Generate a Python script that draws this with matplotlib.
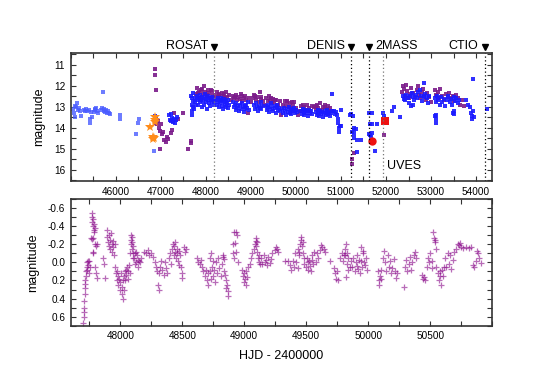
import numpy as np
import matplotlib
matplotlib.use("Agg")
import matplotlib.pyplot as plt
from matplotlib.ticker import MultipleLocator, FormatStrFormatter

plt.rcParams['font.family'] = ['Liberation Sans', 'DejaVu Sans']
plt.rcParams['axes.unicode_minus'] = False

#%% top panel data (HJD-2400000, magnitude)
blue_early = [(45060, 13.1), (45080, 13.3), (45100, 12.95), (45120, 13.0), (45140, 12.85),
              (45160, 13.15), (45180, 13.05), (45200, 13.2), (45230, 13.45), (45090, 13.5),
              (45290, 13.15), (45310, 13.2), (45330, 13.1), (45360, 13.2), (45400, 13.15),
              (45420, 13.6), (45430, 13.8), (45460, 13.25), (45480, 13.5), (45510, 13.25),
              (45530, 13.1), (45550, 13.15), (45570, 13.05), (45590, 13.2), (45610, 13.3),
              (45680, 13.15), (45700, 13.05), (45720, 12.3), (45730, 13.2), (45750, 13.1),
              (45770, 13.25), (45790, 13.15), (45810, 13.3), (45830, 13.2), (45850, 13.3),
              (45870, 13.35), (46090, 13.4), (46100, 13.6), (46440, 14.3), (46500, 13.8),
              (46520, 13.6), (46840, 15.1)]

blue_mid = [(46870, 13.45), (46880, 13.6), (46890, 13.7), (46900, 13.55),
            (47190, 13.4), (47210, 13.65), (47230, 13.7), (47250, 13.55), (47270, 13.75),
            (47290, 13.6), (47310, 13.8), (47330, 13.65), (47350, 13.5), (47230, 13.35),
            (47680, 12.5), (47700, 12.6), (47710, 12.75), (47690, 12.9), (47720, 13.0),
            (47700, 13.2), (47690, 13.4), (47730, 13.1), (47750, 12.8), (47760, 12.6),
            (47780, 12.9), (47705, 12.35)]

blue_band = [(47800, 12.7), (47815, 12.5), (47830, 12.9), (47845, 12.6), (47860, 12.8),
             (47875, 12.45), (47890, 12.7), (47905, 13.0), (47920, 12.55), (47935, 12.75),
             (47950, 12.9), (47965, 12.6), (47980, 12.4), (47995, 12.8), (48010, 12.65),
             (48025, 13.1), (48040, 12.7), (48055, 12.5), (48070, 12.85), (48085, 12.6),
             (48100, 12.95), (48115, 12.7), (48130, 12.55), (48145, 12.8), (48160, 12.65),
             (48175, 12.9), (48190, 12.75),
             (48230, 12.7), (48245, 12.9), (48260, 12.6), (48275, 12.8), (48290, 13.0),
             (48305, 12.7), (48320, 12.85), (48335, 12.6), (48350, 12.95), (48365, 12.75),
             (48380, 13.1), (48395, 12.8), (48410, 12.65), (48425, 12.9), (48440, 13.0),
             (48455, 12.75), (48470, 12.85), (48485, 13.05), (48500, 12.7), (48515, 12.9),
             (48600, 12.8), (48620, 13.0), (48640, 12.9), (48660, 13.15), (48680, 12.85),
             (48700, 13.05), (48720, 12.95), (48740, 13.2), (48760, 12.9), (48780, 13.1),
             (48800, 12.85), (48820, 13.0), (48840, 13.25), (48860, 12.95), (48880, 13.1),
             (48900, 12.9), (48920, 13.05), (48940, 12.8), (48960, 13.15),
             (49075, 12.9), (49095, 13.1), (49115, 12.85), (49135, 13.0), (49155, 13.2),
             (49175, 12.95), (49195, 13.05), (49215, 12.8), (49235, 13.1), (49255, 12.95),
             (49330, 12.95), (49350, 13.15), (49370, 12.9), (49390, 13.05), (49410, 13.25),
             (49430, 13.0), (49450, 12.85), (49470, 13.1), (49490, 13.2), (49510, 12.95),
             (49530, 13.05), (49550, 13.3), (49570, 13.0), (49590, 12.9), (49610, 13.15),
             (49630, 13.05), (49650, 13.2),
             (49700, 13.1), (49720, 13.3), (49740, 13.05), (49760, 13.2), (49780, 13.4),
             (49800, 13.1), (49820, 13.25), (49840, 13.0), (49860, 13.3), (49880, 13.15),
             (49900, 13.35), (49920, 13.1), (49940, 13.2), (49960, 13.05), (49980, 13.3),
             (50000, 13.15), (50020, 13.25),
             (50110, 13.2), (50130, 13.35), (50150, 13.1), (50170, 13.25), (50190, 13.4),
             (50210, 13.15), (50230, 13.3), (50250, 13.2), (50270, 13.45), (50290, 13.15),
             (50310, 13.3), (50330, 13.2), (50350, 13.35),
             (50440, 13.25), (50460, 13.4), (50480, 13.15), (50500, 13.3), (50520, 13.45),
             (50540, 13.2), (50560, 13.35), (50580, 13.25), (50600, 13.5), (50620, 13.3),
             (50640, 13.2), (50660, 13.4), (50680, 13.3), (50700, 13.15), (50720, 13.35),
             (50740, 13.25), (50760, 13.45), (50780, 13.3), (50800, 13.2),
             (50810, 12.4), (50850, 13.2), (50870, 13.35), (50890, 13.25), (50910, 13.4),
             (50930, 13.6), (50945, 13.8), (50955, 14.0), (50965, 14.2), (50975, 13.9)]

blue_late = [(51000, 13.15), (51010, 13.9), (51190, 13.4), (51230, 13.35), (51270, 13.45),
             (51250, 14.2), (51280, 14.1), (51300, 14.0), (51330, 14.05), (51350, 14.6),
             (51300, 14.3), (51280, 14.5), (51440, 14.6), (51347, 15.15),
             (51620, 13.3), (51700, 13.3), (51640, 13.85), (51700, 13.85), (51620, 14.3),
             (51640, 14.35), (51660, 14.45), (51690, 14.25), (51760, 15.1), (51790, 13.85),
             (51940, 13.3), (51950, 13.55), (51960, 13.45), (52140, 13.2), (52170, 13.0),
             (52300, 13.5),
             (52370, 12.5), (52390, 12.65), (52420, 12.7), (52450, 12.45), (52480, 12.6),
             (52510, 12.85), (52540, 12.5), (52570, 12.35), (52600, 12.55), (52630, 12.7),
             (52660, 12.45), (52690, 12.6), (52720, 12.3), (52750, 12.2), (52780, 12.5),
             (52810, 12.75), (52840, 12.55), (52870, 12.4), (52900, 12.6), (52930, 12.85),
             (52960, 12.5), (52850, 11.87), (52560, 12.95), (52600, 12.9),
             (53090, 13.45), (53100, 13.6), (53110, 13.8), (53120, 13.4),
             (53080, 12.6), (53100, 12.8), (53130, 12.5), (53160, 12.7), (53190, 12.9),
             (53220, 12.55), (53250, 12.8), (53280, 12.65), (53320, 12.95), (53350, 12.7),
             (53380, 12.5), (53410, 12.8), (53440, 12.65), (53470, 12.9), (53500, 12.55),
             (53530, 12.75), (53560, 12.6), (53600, 12.85), (53630, 12.7), (53520, 13.2),
             (53480, 13.3), (53510, 13.35),
             (53780, 12.7), (53830, 12.9), (53860, 13.0), (53890, 13.3), (53910, 13.45),
             (53925, 11.7), (53900, 13.6), (53940, 13.2), (53960, 13.5), (54240, 13.1)]

purple_top = [(46870, 11.2), (46880, 11.5), (46890, 12.2), (46900, 13.8), (46910, 13.85),
              (46940, 13.7), (46960, 14.0), (46990, 14.15), (47010, 13.85), (47030, 14.3),
              (47060, 14.2), (47080, 14.6), (47110, 14.7), (47130, 14.45), (46973, 15.0),
              (47150, 14.55), (47231, 14.25), (47250, 14.1), (47380, 13.6), (47300, 13.3),
              (47490, 13.3), (47600, 15.0), (47660, 14.75), (47675, 14.65),
              (47780, 12.4), (47810, 12.1), (47840, 12.3), (47870, 12.6), (47900, 12.2),
              (47930, 12.4), (47960, 12.0), (47990, 12.3), (48020, 12.5), (48050, 12.2),
              (48080, 12.35), (48110, 12.6), (48140, 12.25), (48170, 12.45), (48200, 12.5),
              (48240, 12.3), (48270, 12.55), (48300, 12.4), (48330, 12.7), (48360, 12.35),
              (48390, 12.5), (48420, 12.6), (48450, 12.3), (48480, 12.55), (48510, 12.45),
              (48550, 12.7), (48600, 12.5), (48630, 12.6), (48660, 12.45), (48690, 12.7),
              (48720, 12.55), (48750, 12.65), (48780, 12.4), (48810, 12.75), (48840, 12.6),
              (48870, 12.5), (48900, 12.7), (48930, 13.3), (48960, 12.6), (49000, 12.8),
              (49050, 12.6), (49080, 12.45), (49110, 12.7), (49140, 12.55), (49170, 12.8),
              (49200, 12.3), (49230, 12.65), (49260, 12.75), (49300, 12.9), (49340, 12.6),
              (49370, 12.75), (49400, 12.5), (49430, 12.7), (49460, 12.85), (49490, 12.65),
              (49520, 12.8), (49560, 12.7), (49600, 12.9), (49640, 12.75), (49680, 13.4),
              (49720, 12.9), (49750, 12.75), (49780, 12.95), (49810, 12.8), (49840, 13.0),
              (49870, 12.85), (49900, 13.05), (49930, 12.9), (49960, 12.8), (50000, 13.05),
              (50040, 13.4), (50080, 13.2), (50120, 12.95), (50150, 13.1), (50180, 13.0),
              (50210, 13.15), (50240, 12.9), (50280, 13.05), (50320, 13.2), (50360, 12.95),
              (50400, 13.0), (50440, 13.1), (50470, 12.9), (50500, 13.05), (50540, 12.85),
              (50570, 13.15), (50600, 13.0), (50640, 12.9), (50680, 13.1), (50720, 12.95),
              (50760, 13.05), (50790, 13.2),
              (47825, 12.35), (47915, 12.15), (48035, 12.45), (48125, 12.2), (48285, 12.45),
              (48405, 12.4), (48645, 12.55), (48795, 12.5), (49095, 12.5), (49215, 12.55),
              (49445, 12.6), (49535, 12.7), (49795, 12.75), (49915, 12.8), (50165, 12.9),
              (50455, 12.95), (50655, 13.0),
              (51290, 15.2), (51250, 15.5), (51250, 15.75), (51950, 14.35),
              (52360, 12.3), (52380, 12.0), (52400, 12.15), (52420, 12.5), (52440, 11.95),
              (52470, 12.25), (52500, 12.6), (52530, 12.4), (52560, 12.1), (52600, 12.35),
              (52640, 12.55), (52680, 12.2), (52700, 12.0), (52730, 12.45), (52760, 12.6),
              (52790, 12.3), (52820, 12.15), (52850, 12.5), (52880, 12.7), (52910, 12.35),
              (52950, 12.55), (52990, 12.8),
              (53080, 12.2), (53110, 12.45), (53150, 12.3), (53180, 12.6), (53210, 12.15),
              (53250, 12.5), (53290, 12.7), (53330, 12.4), (53370, 12.55), (53400, 12.35),
              (53440, 12.6), (53480, 12.5), (53520, 12.75), (53560, 12.45), (53600, 12.6),
              (53640, 12.9), (53690, 12.7), (53730, 12.95)]

orange_stars = [(46760, 13.96), (46826, 14.43), (46835, 14.55), (46845, 14.5),
                (46862, 13.5), (46870, 13.65), (46866, 13.75)]
red_circle = [(51680, 14.62)]
red_square = [(51980, 13.67)]

# surveys: name, HJD-2400000
survey_names = ['ROSAT', 'DENIS', '2MASS', 'UVES', 'CTIO']
survey_hjd = [48190, 51220, 51615, 51930, 54190]

#%% bottom panel data (HJD-2400000, magnitude residual)
resid_a = [(47700, 0.67), (47705, 0.55), (47708, 0.5), (47710, 0.43), (47712, 0.35),
           (47715, 0.28), (47718, 0.2), (47722, 0.15), (47725, 0.1), (47728, 0.05),
           (47732, 0.0), (47735, 0.08), (47738, -0.02), (47742, 0.03), (47745, 0.12),
           (47748, -0.01), (47752, 0.05), (47704, 0.6), (47716, 0.24),
           (47769, -0.5), (47772, -0.54), (47775, -0.45), (47778, -0.4), (47781, -0.48),
           (47784, -0.36), (47787, -0.42), (47790, -0.34), (47793, -0.38), (47760, -0.27),
           (47770, -0.26), (47780, -0.27), (47795, -0.2), (47805, -0.18), (47812, -0.2),
           (47776, -0.1), (47782, -0.12), (47800, 0.05), (47805, 0.12), (47810, 0.17),
           (47863, -0.05), (47876, 0.17), (47868, 0.02),
           (47890, -0.36), (47895, -0.28), (47900, -0.22), (47905, -0.3), (47910, -0.18),
           (47915, -0.25), (47920, -0.15), (47925, -0.32), (47930, -0.2), (47935, -0.12),
           (47940, -0.24), (47945, -0.17), (47950, -0.08), (47955, -0.2),
           (47960, 0.05), (47965, 0.12), (47970, 0.2), (47975, 0.1), (47980, 0.15),
           (47985, 0.25), (47990, 0.18), (47995, 0.3), (48000, 0.22), (48005, 0.12),
           (48010, 0.27), (48015, 0.35), (48020, 0.2), (48025, 0.4), (48027, 0.3),
           (48030, 0.15), (48035, 0.1), (48040, 0.2), (48045, 0.08), (48050, 0.14),
           (48055, 0.05), (48060, 0.18), (48065, 0.1), (48070, 0.03), (48075, 0.12),
           (48080, -0.1), (48085, -0.25), (48088, -0.3), (48090, -0.2), (48093, -0.28),
           (48095, -0.15), (48098, -0.22), (48100, -0.1), (48103, -0.05), (48106, -0.18),
           (48110, -0.05), (48115, 0.02), (48120, -0.1), (48125, -0.12), (48130, 0.0),
           (48135, -0.08), (48140, -0.03), (48145, 0.05), (48150, -0.02), (48160, 0.0),
           (48170, -0.05)]

resid_b = [(48190, -0.12), (48205, -0.1), (48220, -0.14), (48235, -0.08), (48250, -0.1),
           (48265, -0.06), (48280, 0.0), (48290, 0.05), (48300, 0.1), (48305, 0.25),
           (48310, 0.3), (48315, 0.12), (48320, 0.05), (48330, -0.02), (48340, 0.08),
           (48350, 0.14), (48360, 0.0), (48370, 0.06), (48375, 0.12),
           (48390, -0.05), (48400, -0.1), (48410, 0.02), (48420, -0.15), (48425, -0.2),
           (48430, -0.08), (48435, -0.18), (48440, -0.12), (48445, -0.22), (48450, -0.05),
           (48455, -0.15), (48460, -0.1), (48465, -0.02), (48470, -0.13), (48475, 0.03),
           (48480, -0.08), (48510, -0.17), (48520, -0.12), (48530, -0.15),
           (48490, 0.05), (48495, 0.12), (48500, 0.17),
           (48620, -0.05), (48630, 0.0), (48640, 0.02), (48650, -0.03),
           (48660, 0.05), (48670, 0.1), (48680, 0.15), (48690, 0.08), (48700, 0.2),
           (48705, 0.25), (48710, 0.12),
           (48720, -0.05), (48725, 0.1), (48730, 0.18), (48735, -0.1), (48740, 0.05),
           (48745, 0.15), (48750, -0.02), (48755, 0.08), (48760, 0.22),
           (48770, 0.0), (48780, 0.12), (48790, -0.05), (48800, 0.06), (48810, 0.15),
           (48820, 0.02), (48830, -0.08), (48840, 0.1), (48825, -0.06), (48835, -0.04),
           (48848, 0.14), (48852, 0.2), (48856, 0.28), (48860, 0.25), (48865, 0.32),
           (48870, 0.37),
           (48905, -0.2), (48915, -0.33), (48930, -0.34), (48945, -0.3), (48910, -0.1),
           (48920, -0.05), (48935, -0.12), (48950, 0.0), (48925, -0.21),
           (48980, 0.08), (48990, 0.15), (48995, 0.22), (49000, 0.12), (49005, 0.18),
           (49010, 0.25), (49015, 0.1), (49020, 0.16), (49030, 0.05)]

resid_c = [(49045, 0.02), (49055, -0.05), (49065, -0.1), (49075, -0.15), (49085, -0.2),
           (49095, -0.27), (49100, -0.22), (49105, -0.12), (49110, -0.05), (49115, 0.0),
           (49120, -0.08), (49125, 0.02), (49092, -0.24), (49098, -0.18),
           (49135, -0.05), (49145, 0.02), (49155, -0.08), (49165, 0.0), (49175, -0.03),
           (49185, 0.03), (49195, -0.06), (49205, 0.01), (49215, -0.04), (49225, -0.1),
           (49250, -0.14), (49258, -0.17), (49265, -0.15), (49272, -0.11),
           (49330, -0.02), (49350, -0.01),
           (49370, 0.03), (49380, 0.08), (49390, -0.02), (49400, 0.05), (49410, -0.1),
           (49420, 0.0), (49430, -0.15), (49440, -0.08), (49450, -0.2), (49455, -0.25),
           (49460, -0.28), (49465, -0.18), (49470, -0.22), (49475, -0.1), (49480, -0.05),
           (49485, 0.02), (49445, -0.12), (49435, 0.06),
           (49495, 0.05), (49505, -0.05), (49515, 0.08), (49525, -0.02), (49535, 0.1),
           (49545, -0.08), (49555, 0.02), (49565, -0.12), (49575, 0.0), (49585, -0.1),
           (49595, -0.05), (49510, 0.0), (49530, 0.04), (49550, -0.03),
           (49610, -0.14), (49620, -0.19), (49630, -0.17), (49640, -0.15), (49650, -0.12),
           (49690, -0.01),
           (49720, 0.06), (49730, 0.12), (49740, 0.18), (49750, 0.1), (49755, 0.2),
           (49775, -0.05), (49785, -0.1), (49795, -0.02), (49805, -0.08)]

resid_d = [(49810, -0.15), (49815, -0.08), (49820, -0.2), (49825, 0.02), (49830, -0.1),
           (49835, 0.08), (49840, -0.05), (49850, 0.05), (49860, -0.02), (49822, 0.16),
           (49870, 0.05), (49880, -0.05), (49890, 0.1), (49900, 0.0), (49910, -0.08),
           (49920, 0.07), (49930, 0.12), (49940, -0.02), (49950, 0.05), (49960, -0.1),
           (49970, 0.03), (49980, -0.05), (49990, 0.08), (49945, -0.17), (49955, -0.13),
           (49905, 0.04), (49925, -0.03), (49965, 0.0),
           (50080, 0.1), (50085, 0.2), (50090, 0.25), (50095, 0.15), (50100, 0.08),
           (50105, 0.18),
           (50115, -0.05), (50125, -0.13), (50135, 0.0), (50145, 0.1), (50155, -0.08),
           (50165, 0.05), (50175, -0.02), (50185, 0.12), (50195, 0.06), (50205, -0.04),
           (50215, 0.1), (50225, 0.17), (50235, 0.12), (50285, 0.27),
           (50295, 0.05), (50305, -0.03), (50315, 0.1), (50325, 0.02), (50335, -0.06),
           (50345, 0.08), (50355, 0.0), (50365, -0.08), (50375, -0.12), (50385, -0.05),
           (50430, 0.14), (50440, 0.18), (50450, 0.16), (50460, 0.19),
           (50470, 0.05), (50480, -0.05), (50490, 0.0), (50500, -0.1), (50510, 0.06),
           (50515, -0.02),
           (50522, -0.34), (50528, -0.27), (50534, -0.25), (50540, -0.23), (50545, -0.15),
           (50550, 0.05), (50560, 0.12), (50570, 0.2), (50580, 0.1), (50590, 0.25),
           (50600, 0.15), (50610, 0.05), (50575, 0.15), (50595, 0.08),
           (50620, -0.05), (50630, 0.05), (50640, -0.1), (50650, 0.02), (50660, -0.08),
           (50670, 0.07), (50680, -0.03), (50690, -0.12),
           (50710, -0.15), (50720, -0.2), (50730, -0.19), (50740, -0.21), (50750, -0.17),
           (50760, -0.16), (50790, -0.17), (50810, -0.16), (50830, -0.17),
           (50845, 0.03), (50855, 0.05), (50865, -0.02),
           (50875, -0.13), (50885, -0.1), (50895, -0.05), (50905, 0.01)]

#%% figure
fig = plt.figure(figsize=(5.45, 3.91), dpi=100)
ax1 = fig.add_axes([0.1297, 0.5371, 0.7736, 0.3266])
ax2 = fig.add_axes([0.1297, 0.167, 0.7736, 0.324])

def pts(lst):
    a = np.array(lst, dtype=float)
    return a[:, 0], a[:, 1]

frame_col = '#333333'
for ax in (ax1, ax2):
    for s in ax.spines.values():
        s.set_linewidth(1.2)
        s.set_color(frame_col)
    ax.tick_params(which='both', direction='in', top=True, right=True,
                   length=3.5, width=0.8, color=frame_col, labelsize=7.2, pad=4)

# purple first, blue drawn over it
px_, py_ = pts(purple_top)
ax1.plot(px_, py_, 's', ms=2.2, color='#7a1a8a', mew=0, alpha=0.9)
bx, by = pts(blue_early)
ax1.plot(bx, by, 's', ms=2.2, color='#4a5cff', mew=0, alpha=0.8)
bx, by = pts(blue_mid + blue_band + blue_late)
ax1.plot(bx, by, 's', ms=2.2, color='#1a1aff', mew=0, alpha=0.9)
ox, oy = pts(orange_stars)
ax1.plot(ox, oy, '*', ms=7, color='#ff8c1a', mew=0)
cx, cy = pts(red_circle)
ax1.plot(cx, cy, 'o', ms=6, color='#ee1111', mew=0)
sx, sy = pts(red_square)
ax1.plot(sx, sy, 's', ms=5.5, color='#ee1111', mew=0)

line_cols = ['#777777', 'k', 'k', '#777777', 'k']
for name, hjd, lc in zip(survey_names, survey_hjd, line_cols):
    ax1.axvline(hjd, color=lc, ls=(0, (1, 2)), lw=0.9)
    if name == 'UVES':
        ax1.annotate(name, xy=(hjd, 0.117), xycoords=('data', 'axes fraction'),
                     xytext=(3, 0), textcoords='offset points', ha='left', va='center',
                     fontsize=9)
        continue
    ax1.plot([hjd], [1.047], 'v', ms=4, color='k', transform=ax1.get_xaxis_transform(),
             clip_on=False)
    if name == '2MASS':
        ax1.annotate(name, xy=(hjd, 1.057), xycoords=('data', 'axes fraction'),
                     xytext=(5, 0), textcoords='offset points', ha='left', va='center',
                     fontsize=9)
    else:
        ax1.annotate(name, xy=(hjd, 1.057), xycoords=('data', 'axes fraction'),
                     xytext=(-4.5, 0), textcoords='offset points', ha='right', va='center',
                     fontsize=9)

ax1.set_xlim(45000, 54360)
ax1.set_ylim(16.54, 10.46)
ax1.xaxis.set_major_locator(MultipleLocator(1000))
ax1.xaxis.set_minor_locator(MultipleLocator(500))
ax1.yaxis.set_major_locator(MultipleLocator(1))
ax1.yaxis.set_minor_locator(MultipleLocator(0.5))
ax1.set_xticks([46000, 47000, 48000, 49000, 50000, 51000, 52000, 53000, 54000])
ax1.set_ylabel('magnitude', fontsize=9, labelpad=6)

for seg in (resid_a, resid_b, resid_c, resid_d):
    rx, ry = pts(seg)
    ax2.plot(rx, ry, '+', ms=5, mew=0.9, color='#8a0a8a', alpha=0.6)

ax2.set_xlim(47600, 51000)
ax2.set_ylim(0.7, -0.7)
ax2.xaxis.set_major_locator(MultipleLocator(500))
ax2.xaxis.set_minor_locator(MultipleLocator(250))
ax2.set_xticks([48000, 48500, 49000, 49500, 50000, 50500])
ax2.yaxis.set_major_locator(MultipleLocator(0.2))
ax2.yaxis.set_minor_locator(MultipleLocator(0.1))
ax2.yaxis.set_major_formatter(FormatStrFormatter('%.1f'))
ax2.set_ylabel('magnitude', fontsize=9, labelpad=6)
ax2.set_xlabel('HJD - 2400000', fontsize=9, labelpad=6)

fig.savefig('out.png', dpi=100)
